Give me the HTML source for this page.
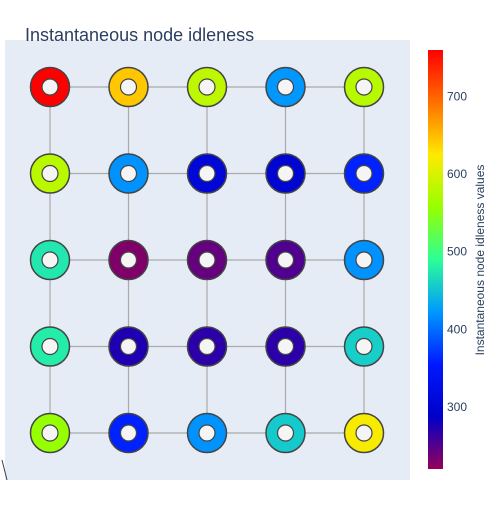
<!DOCTYPE html>
<html><head><meta charset="utf-8"><style>
body{margin:0;background:#fff;}
svg text{font-family:"Liberation Sans",sans-serif;fill:#2a3f5f;}
</style></head><body>
<svg id="chart" width="500" height="500" xmlns="http://www.w3.org/2000/svg">
<defs>
<linearGradient id="cs" x1="0" y1="1" x2="0" y2="0">
<stop offset="0" stop-color="rgb(150,0,90)"/>
<stop offset="0.125" stop-color="rgb(0,0,200)"/>
<stop offset="0.25" stop-color="rgb(0,25,255)"/>
<stop offset="0.375" stop-color="rgb(0,152,255)"/>
<stop offset="0.5" stop-color="rgb(44,255,150)"/>
<stop offset="0.625" stop-color="rgb(151,255,0)"/>
<stop offset="0.75" stop-color="rgb(255,234,0)"/>
<stop offset="0.875" stop-color="rgb(255,111,0)"/>
<stop offset="1" stop-color="rgb(255,0,0)"/>
</linearGradient>
</defs>
<rect x="5" y="40" width="405" height="440" fill="#e5ecf6"/>
<text x="25" y="41" font-size="18">Instantaneous node idleness</text>
<line x1="2" y1="460" x2="7" y2="480" stroke="#444" stroke-width="1"/>
<g id="edges"></g><g id="nodes"></g>
<rect x="428" y="50" width="15" height="419" fill="url(#cs)"/>
<g id="cbticks"></g>
<text transform="translate(484,260) rotate(-90)" text-anchor="middle" font-size="12">Instantaneous node idleness values</text>
</svg>
<script>
const cols=[0,1,2,3,4];
const rows=[0,1,2,3,4];
const idleness=[
 [760,644,582,422,578],
 [580,420,306,300,360],
 [474,230,242,252,420],
 [478,274,268,268,458],
 [557,360,420,455,620]
];
const cbTicks=[300,400,500,600,700];
const cmin=220,cmax=760;
const xs=c=>50+c*78.5, ys=r=>87+r*86.5;
const cbY=v=>469-(v-cmin)/(cmax-cmin)*419;
const stops=[[0,[150,0,90]],[.125,[0,0,200]],[.25,[0,25,255]],[.375,[0,152,255]],[.5,[44,255,150]],[.625,[151,255,0]],[.75,[255,234,0]],[.875,[255,111,0]],[1,[255,0,0]]];
function color(v){let t=Math.max(0,Math.min(1,(v-cmin)/(cmax-cmin)));
 for(let i=1;i<stops.length;i++){if(t<=stops[i][0]){const a=stops[i-1],b=stops[i],f=(t-a[0])/(b[0]-a[0]);
 return 'rgb('+a[1].map((x,k)=>Math.round(x+(b[1][k]-x)*f)).join(',')+')';}}return 'rgb(255,0,0)';}
const NS='http://www.w3.org/2000/svg';
const E=document.getElementById('edges'),N=document.getElementById('nodes'),T=document.getElementById('cbticks');
function mk(tag,at,p){const e=document.createElementNS(NS,tag);for(const k in at)e.setAttribute(k,at[k]);p.appendChild(e);return e;}
rows.forEach(r=>cols.forEach(c=>{
 if(c<4){const l=mk('line',{x1:xs(c),y1:ys(r),x2:xs(c+1),y2:ys(r),stroke:'#aaa','stroke-width':1.2},E);
 
 }
 if(r<4){const l=mk('line',{x1:xs(c),y1:ys(r),x2:xs(c),y2:ys(r+1),stroke:'#aaa','stroke-width':1.2},E);
 
 }
}));
rows.forEach(r=>cols.forEach(c=>{
 const g=mk('g',{},N);
 
 
 mk('circle',{cx:xs(c),cy:ys(r),r:19.5,fill:color(idleness[r][c]),stroke:'#444','stroke-width':1.5},g);
 mk('circle',{cx:xs(c),cy:ys(r),r:8,fill:'#f5f5f5',stroke:'#444','stroke-width':1.2},g);
}));
cbTicks.forEach(v=>{const t=mk('text',{x:447,y:cbY(v)+4,'font-size':12},T);t.textContent=v;
 
 });
</script>
</body></html>
